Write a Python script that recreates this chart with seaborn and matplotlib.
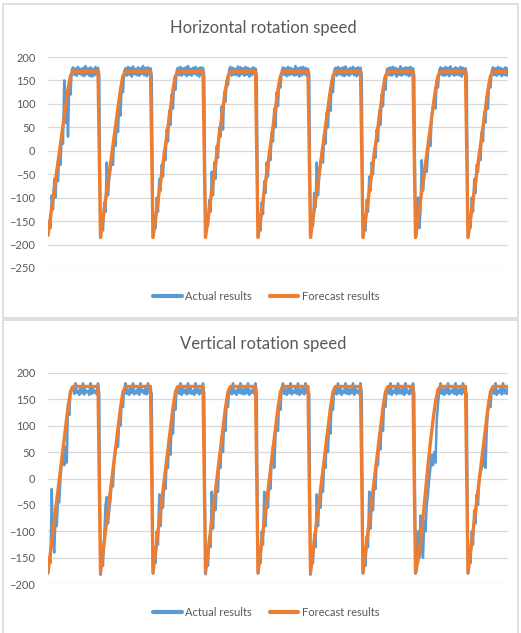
import matplotlib
matplotlib.use("Agg")
import matplotlib.pyplot as plt
import matplotlib.patches as mpatches
import numpy as np
import seaborn as sns

# --- data (one line per cycle: rise, then plateau) ---
actual_h = [
    -180, -150, -165, -95, -125, -60, -100, -40, -65, -10, -30, 30, 15, 150, 60, 110, 30, 140, 120, 172,
    178, 162, 176, 160, 179, 164, 175, 161, 177, 159, 181, 163, 176, 160, 178, 158, 175, 160, 179, 163, 177, 161,
    -184, -150, -170, -110, -130, -25, -95, -60, -40, -10, -30, 30, 10, 70, 40, 105, 75, 145, 125, 170,
    176, 160, 179, 162, 177, 158, 180, 163, 175, 161, 178, 160, 176, 164, 181, 161, 177, 159, 178, 162, 176, 160,
    -185, -145, -165, -100, -130, -60, -85, -30, -55, 0, -20, 45, 20, 85, 55, 120, 90, 155, 130, 172,
    177, 161, 179, 160, 176, 163, 178, 159, 181, 162, 175, 160, 177, 164, 179, 161, 176, 158, 178, 163, 177, 160,
    -184, -150, -160, -105, -130, -45, -95, -25, -60, 10, -15, 50, 30, 95, 45, 125, 105, 150, 140, 174,
    179, 160, 177, 162, 175, 161, 180, 159, 178, 163, 176, 160, 179, 162, 177, 158, 175, 161, 178, 164, 176, 160,
    -185, -150, -170, -110, -135, -65, -90, -25, -55, 0, -20, 40, 20, 90, 50, 125, 95, 150, 135, 170,
    178, 162, 176, 159, 179, 161, 177, 163, 175, 160, 181, 162, 176, 158, 178, 161, 179, 163, 177, 160, 175, 162,
    -183, -145, -160, -90, -120, -25, -95, -55, -30, -5, -25, 35, 15, 80, 50, 115, 85, 150, 125, 172,
    177, 160, 179, 163, 176, 161, 178, 159, 180, 162, 175, 160, 177, 164, 179, 161, 176, 159, 178, 162, 177, 161,
    -185, -150, -170, -105, -130, -55, -85, -25, -50, 5, -15, 45, 20, 85, 55, 120, 95, 155, 130, 172,
    176, 161, 178, 160, 179, 163, 177, 158, 175, 162, 180, 160, 176, 163, 178, 161, 177, 159, 179, 162, 176, 160,
    -185, -178, -100, -165, -130, -20, -85, -55, -30, -45, -5, 30, 10, 75, 95, 110, 90, 150, 135, 172,
    178, 161, 176, 160, 179, 162, 177, 159, 180, 163, 175, 160, 178, 162, 176, 161, 179, 158, 177, 163, 176, 160,
    -184, -150, -165, -100, -130, -60, -90, -30, -45, 0, -20, 40, 20, 80, 60, 115, 90, 150, 135, 170,
    178, 161, 176, 160, 179, 163, 177, 159, 175, 162, 178, 160, 176,
]

forecast_h = [
    -180, -141, -102, -63, -24, 15, 54, 93, 132, 160, 169, 169, 169, 169, 169, 169, 169, 169, 169, 169, 169,
    -185, -146, -106, -67, -27, 12, 52, 91, 131, 160, 169, 169, 169, 169, 169, 169, 169, 169, 169, 169, 169,
    -185, -146, -106, -67, -27, 12, 52, 91, 131, 160, 169, 169, 169, 169, 169, 169, 169, 169, 169, 169, 169,
    -185, -146, -106, -67, -27, 12, 52, 91, 131, 160, 169, 169, 169, 169, 169, 169, 169, 169, 169, 169, 169,
    -185, -146, -106, -67, -27, 12, 52, 91, 131, 160, 169, 169, 169, 169, 169, 169, 169, 169, 169, 169, 169,
    -185, -146, -106, -67, -27, 12, 52, 91, 131, 160, 169, 169, 169, 169, 169, 169, 169, 169, 169, 169, 169,
    -185, -146, -106, -67, -27, 12, 52, 91, 131, 160, 169, 169, 169, 169, 169, 169, 169, 169, 169, 169, 169,
    -185, -146, -106, -67, -27, 12, 52, 91, 131, 160, 169, 169, 169, 169, 169, 169, 169, 169, 169, 169, 169,
    -185, -146, -106, -67, -27, 12, 52, 91, 131, 160, 169, 169, 169, 169, 169, 169, 169,
]

actual_v = [
    -180, -150, -160, -20, -120, -140, -75, -90, -40, -45, 0, 30, 45, 25, 60, 30, 140, 120, 165, 172,
    170, 160, 180, 162, 166, 158, 172, 161, 180, 159, 168, 163, 165, 158, 180, 160, 170, 162, 166, 159, 180, 161,
    -182, -150, -165, -110, -50, -35, -85, -60, -40, -5, -15, 35, 50, 70, 60, 110, 100, 145, 135, 170,
    180, 160, 168, 158, 172, 162, 180, 159, 166, 161, 170, 158, 180, 163, 167, 160, 172, 159, 180, 162, 168, 160,
    -180, -145, -160, -100, -125, -30, -90, -45, -55, -5, -20, 35, 20, 80, 45, 110, 85, 150, 130, 172,
    166, 160, 180, 158, 170, 162, 168, 159, 180, 161, 172, 160, 166, 158, 180, 162, 170, 159, 168, 161, 180, 160,
    -181, -150, -165, -110, -130, -25, -95, -45, -60, -15, -25, 35, 20, 80, 50, 115, 90, 150, 135, 170,
    172, 159, 180, 161, 166, 158, 170, 162, 180, 160, 168, 159, 172, 161, 180, 158, 166, 162, 170, 160, 180, 161,
    -180, -145, -160, -100, -125, -25, -90, -40, -55, -5, -20, 40, 60, 20, 80, 115, 90, 150, 130, 172,
    180, 160, 168, 158, 172, 161, 180, 159, 166, 162, 170, 160, 180, 158, 168, 161, 172, 159, 180, 162, 166, 160,
    -182, -150, -160, -105, -130, -30, -90, -45, -55, -5, -25, 35, 20, 80, 50, 110, 85, 150, 130, 172,
    168, 159, 180, 161, 170, 158, 166, 162, 180, 160, 172, 159, 168, 161, 180, 158, 170, 162, 166, 160, 180, 161,
    -180, -148, -165, -110, -130, -25, -95, -45, -60, -10, -20, 35, 25, 85, 55, 115, 90, 150, 135, 170,
    172, 160, 180, 158, 166, 162, 170, 159, 180, 161, 168, 160, 172, 158, 180, 162, 166, 159, 170, 161, 180, 160,
    -180, -172, -100, -150, -70, -130, -150, -80, -100, -50, -30, 0, 20, 45, 25, 50, 30, 110, 140, 165,
    180, 160, 168, 158, 172, 161, 180, 159, 166, 162, 170, 160, 180, 158, 168, 161, 172, 159, 180, 162, 166, 160,
    -180, -150, -160, -100, -125, -60, -85, -30, -50, -5, 10, 20, 25, 60, 20, 90, 130, 150, 135, 170,
    172, 160, 180, 158, 166, 162, 170, 159, 180, 161, 168, 160, 172,
]

forecast_v = [
    -178, -139, -100, -61, -22, 17, 56, 95, 134, 164, 174, 174, 174, 174, 174, 174, 174, 174, 174, 174, 174,
    -178, -139, -100, -61, -22, 17, 56, 95, 134, 164, 174, 174, 174, 174, 174, 174, 174, 174, 174, 174, 174,
    -178, -139, -100, -61, -22, 17, 56, 95, 134, 164, 174, 174, 174, 174, 174, 174, 174, 174, 174, 174, 174,
    -178, -139, -100, -61, -22, 17, 56, 95, 134, 164, 174, 174, 174, 174, 174, 174, 174, 174, 174, 174, 174,
    -178, -139, -100, -61, -22, 17, 56, 95, 134, 164, 174, 174, 174, 174, 174, 174, 174, 174, 174, 174, 174,
    -178, -139, -100, -61, -22, 17, 56, 95, 134, 164, 174, 174, 174, 174, 174, 174, 174, 174, 174, 174, 174,
    -178, -139, -100, -61, -22, 17, 56, 95, 134, 164, 174, 174, 174, 174, 174, 174, 174, 174, 174, 174, 174,
    -178, -155, -120, -75, -25, 25, 70, 110, 145, 168, 174, 174, 174, 174, 174, 174, 174, 174, 174, 174, 174,
    -178, -139, -100, -61, -22, 17, 56, 95, 134, 164, 174, 174, 174, 174, 174, 174, 174,
]

titles = ["Horizontal rotation speed", "Vertical rotation speed"]
y_ticks_h = [-250, -200, -150, -100, -50, 0, 50, 100, 150, 200]
y_ticks_v = [-200, -150, -100, -50, 0, 50, 100, 150, 200]
series_names = ["Actual results", "Forecast results"]

BLUE = "#5B9BD5"
ORANGE = "#ED7D31"
GREY = "#595959"
GRID = "#D9D9D9"

sns.set_style("white")
plt.rcParams["font.family"] = ["Lato", "DejaVu Sans"]

W, H = 521, 633
fig = plt.figure(figsize=(W / 100, H / 100), dpi=100)


def fx(px):
    return px / W


def fy(py):
    return 1 - py / H


# chart-area frames
for top, bottom in [(4, 318), (320, 640)]:
    fig.patches.append(mpatches.Rectangle((fx(3), fy(bottom)), fx(515), (bottom - top) / H,
                                          transform=fig.transFigure, fill=False,
                                          edgecolor=GRID, linewidth=1.2))


def draw_panel(rect, actual, forecast, yticks, title, title_y, legend_y):
    ax = fig.add_axes(rect)
    t_act = np.arange(len(actual))
    t_fc = np.arange(len(forecast)) * 2
    sns.lineplot(x=t_act, y=actual, ax=ax, color=BLUE, linewidth=1.8, label=series_names[0])
    sns.lineplot(x=t_fc, y=forecast, ax=ax, color=ORANGE, linewidth=2.4, label=series_names[1])
    ax.set_xlim(0, len(actual) - 1)
    ax.set_ylim(yticks[0], yticks[-1])
    ax.set_yticks(yticks)
    ax.set_xticks([])
    ax.yaxis.grid(True, color=GRID, linewidth=0.9)
    ax.set_axisbelow(True)
    for s in ax.spines.values():
        s.set_visible(False)
    ax.tick_params(axis="y", length=0, pad=9, labelsize=8, labelcolor=GREY)
    ax.set_xlabel("")
    ax.set_ylabel("")
    leg = ax.legend(loc="center", bbox_to_anchor=(fx(266), legend_y), bbox_transform=fig.transFigure,
                    ncol=2, frameon=False, fontsize=8, handlelength=2.6, handletextpad=0.3,
                    columnspacing=1.6)
    for txt in leg.get_texts():
        txt.set_color(GREY)
    for line in leg.get_lines():
        line.set_linewidth(3)
    fig.text(fx(263), title_y, title, ha="center", va="center", fontsize=12, color=GREY)
    return ax


draw_panel([fx(48), fy(268), fx(460), (268 - 57) / H], actual_h, forecast_h, y_ticks_h,
           titles[0], fy(28), fy(296))
draw_panel([fx(48), fy(584.3), fx(460), (584.3 - 372.7) / H], actual_v, forecast_v, y_ticks_v,
           titles[1], fy(344), fy(612))

fig.savefig("out.png", dpi=100)
